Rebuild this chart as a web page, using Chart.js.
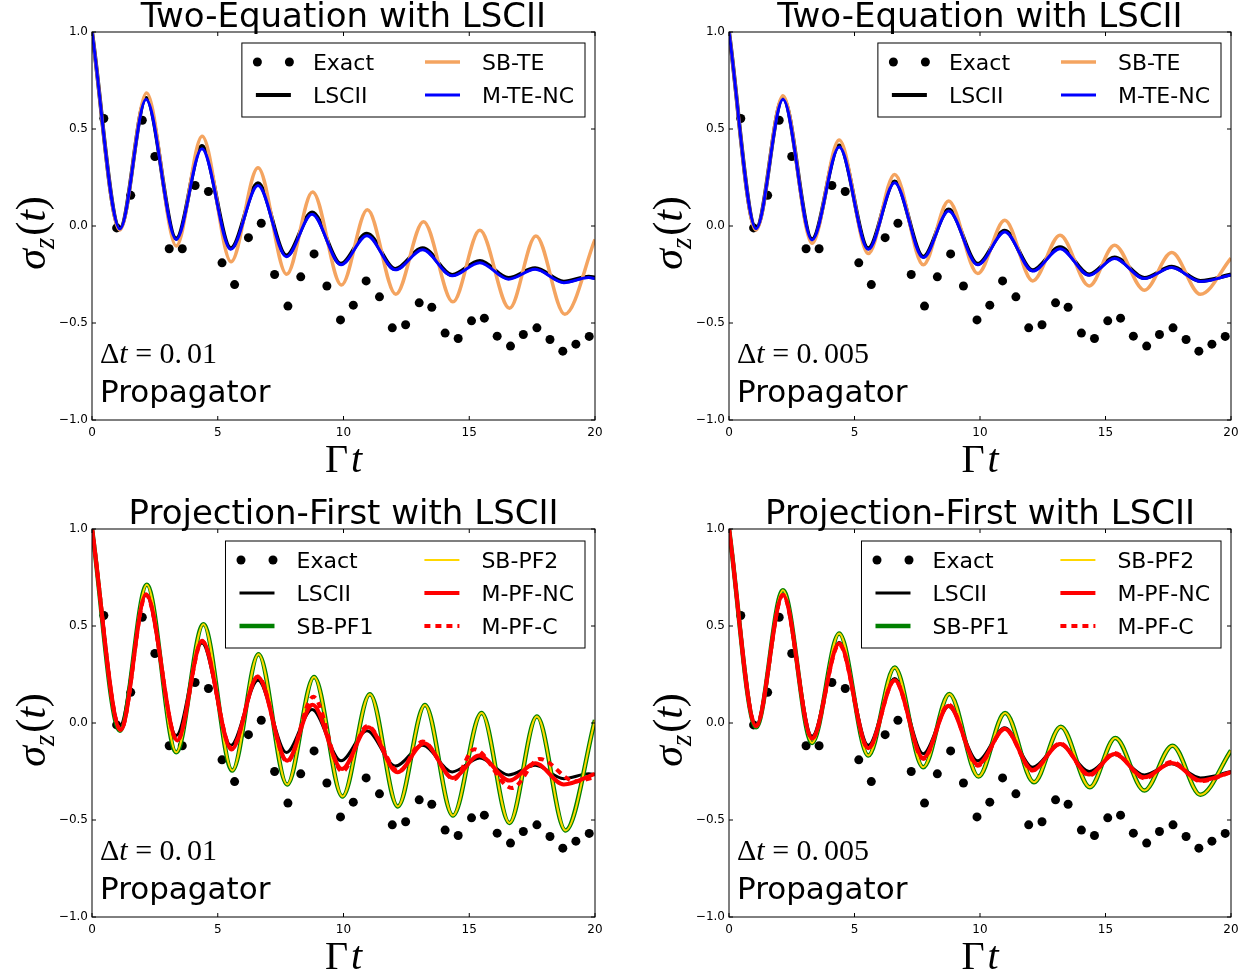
<!DOCTYPE html>
<html>
<head>
<meta charset="utf-8">
<script src="https://cdn.jsdelivr.net/npm/chart.js@4.4.1/dist/chart.umd.min.js"></script>
<style>
  body { margin: 0; background: #fff; }
  #wrap { position: relative; width: 1255px; height: 976px; }
  canvas { position: absolute; }
</style>
</head>
<body>
<div id="wrap">
  <canvas id="c1" width="627" height="488" style="left:0;top:0"></canvas>
  <canvas id="c2" width="618" height="488" style="left:637px;top:0"></canvas>
  <canvas id="c3" width="627" height="488" style="left:0;top:488px"></canvas>
  <canvas id="c4" width="618" height="488" style="left:637px;top:488px"></canvas>
</div>
<script>
// exact result (dots), same in every panel
const exactT = [0.47, 0.98, 1.54, 2.0, 2.5, 3.07, 3.59, 4.1, 4.63, 5.17, 5.67, 6.22, 6.73, 7.26, 7.79, 8.3, 8.83, 9.34, 9.88, 10.39,
  10.9, 11.43, 11.94, 12.47, 13.01, 13.51, 14.04, 14.56, 15.09, 15.6, 16.11, 16.64, 17.15, 17.69, 18.21, 18.72, 19.24, 19.77];
const exactV = [0.554, -0.01, 0.158, 0.545, 0.358, -0.117, -0.117, 0.209, 0.178, -0.19, -0.302, -0.06, 0.014, -0.25, -0.413, -0.262, -0.144, -0.309, -0.484, -0.408,
  -0.283, -0.365, -0.525, -0.509, -0.396, -0.419, -0.552, -0.58, -0.489, -0.475, -0.568, -0.619, -0.559, -0.525, -0.585, -0.645, -0.609, -0.569];

// dt = 0.01
const lsciiT01 = [0, 1.11, 2.15, 3.35, 4.37, 5.52, 6.6, 7.73, 8.75, 9.9, 10.93, 12.06, 13.15, 14.32, 15.42, 16.56, 17.62, 18.76, 19.75, 20];
const lsciiV01 = [1.0, -0.012, 0.66, -0.065, 0.412, -0.115, 0.22, -0.152, 0.07, -0.195, -0.04, -0.222, -0.115, -0.252, -0.18, -0.268, -0.218, -0.287, -0.262, -0.265];
const mtencV01 = [1.0, -0.015, 0.652, -0.069, 0.398, -0.12, 0.209, -0.158, 0.06, -0.2, -0.05, -0.226, -0.123, -0.257, -0.189, -0.274, -0.223, -0.292, -0.266, -0.271];
const sbteT01 = [0, 1.11, 2.17, 3.35, 4.38, 5.53, 6.6, 7.74, 8.77, 9.92, 10.95, 12.08, 13.18, 14.35, 15.42, 16.6, 17.65, 18.8, 20];
const sbteV01 = [1.0, -0.02, 0.686, -0.103, 0.463, -0.184, 0.30, -0.249, 0.175, -0.304, 0.084, -0.352, 0.022, -0.391, -0.022, -0.424, -0.051, -0.455, -0.069];
const sbpfT01 = [0, 1.11, 2.18, 3.35, 4.43, 5.58, 6.62, 7.76, 8.83, 9.96, 11.05, 12.16, 13.24, 14.35, 15.49, 16.6, 17.69, 18.83, 20];
const sbpf1V01 = [1.0, -0.04, 0.712, -0.151, 0.509, -0.245, 0.355, -0.317, 0.237, -0.379, 0.148, -0.43, 0.093, -0.477, 0.051, -0.515, 0.033, -0.554, 0.015];
const sbpf2V01 = [1.0, -0.04, 0.712, -0.151, 0.509, -0.245, 0.355, -0.317, 0.237, -0.379, 0.148, -0.43, 0.093, -0.477, 0.051, -0.515, 0.033, -0.554, 0.015];
const mpfncT01 = [0, 1.14, 2.15, 3.39, 4.38, 5.55, 6.59, 7.76, 8.77, 9.94, 10.98, 12.14, 13.21, 14.35, 15.39, 16.6, 17.62, 18.76, 20];
const mpfncV01 = [1.0, -0.035, 0.664, -0.09, 0.424, -0.137, 0.238, -0.194, 0.094, -0.237, -0.022, -0.254, -0.105, -0.283, -0.168, -0.297, -0.208, -0.317, -0.262];
const mpfcT01 = [0, 1.14, 2.15, 3.39, 4.38, 5.55, 6.6, 7.76, 8.8, 9.95, 10.95, 12.2, 13.15, 14.4, 15.2, 16.7, 17.8, 19.2, 20];
const mpfcV01 = [1.0, -0.035, 0.66, -0.09, 0.42, -0.13, 0.24, -0.2, 0.135, -0.25, -0.015, -0.25, -0.095, -0.29, -0.135, -0.335, -0.185, -0.3, -0.28];

// dt = 0.005
const tT005 = [0, 1.08, 2.15, 3.31, 4.39, 5.55, 6.6, 7.74, 8.75, 9.91, 10.99, 12.1, 13.19, 14.35, 15.36, 16.55, 17.64, 18.78, 20];
const lsciiV005 = [1.0, -0.012, 0.66, -0.068, 0.415, -0.115, 0.23, -0.158, 0.085, -0.195, -0.025, -0.228, -0.11, -0.25, -0.162, -0.268, -0.21, -0.283, -0.25];
const mtencV005 = [1.0, -0.014, 0.652, -0.072, 0.407, -0.12, 0.223, -0.163, 0.077, -0.2, -0.031, -0.232, -0.117, -0.254, -0.168, -0.271, -0.214, -0.286, -0.252];
const sbteV005 = [1.0, -0.02, 0.672, -0.089, 0.443, -0.142, 0.266, -0.2, 0.129, -0.245, 0.029, -0.283, -0.048, -0.309, -0.099, -0.331, -0.137, -0.352, -0.166];
const sbpfT005 = [0, 1.08, 2.15, 3.31, 4.39, 5.55, 6.6, 7.74, 8.78, 9.94, 11.0, 12.15, 13.22, 14.38, 15.39, 16.55, 17.67, 18.78, 20];
const sbpf1V005 = [1.0, -0.022, 0.684, -0.103, 0.461, -0.168, 0.286, -0.228, 0.149, -0.276, 0.051, -0.305, -0.019, -0.331, -0.077, -0.348, -0.117, -0.37, -0.142];
const sbpf2V005 = [1.0, -0.022, 0.684, -0.103, 0.461, -0.168, 0.286, -0.228, 0.149, -0.276, 0.051, -0.305, -0.019, -0.331, -0.077, -0.348, -0.117, -0.37, -0.142];
const mpfncV005 = [1.0, -0.015, 0.66, -0.08, 0.41, -0.13, 0.22, -0.18, 0.089, -0.214, -0.031, -0.242, -0.108, -0.266, -0.16, -0.28, -0.206, -0.297, -0.254];
const mpfcV005 = [1.0, -0.015, 0.66, -0.08, 0.405, -0.13, 0.22, -0.185, 0.095, -0.22, -0.03, -0.245, -0.105, -0.27, -0.155, -0.285, -0.2, -0.3, -0.255];

const xTicks = [0, 5, 10, 15, 20];
const yTicks = [-1.0, -0.5, 0.0, 0.5, 1.0];

const SANS = '"DejaVu Sans", sans-serif';
const SERIF = '"Liberation Serif", "DejaVu Serif", serif';

function pts(ts, vs) {
  return ts.map((t, i) => ({ x: t, y: vs[i] }));
}

function exactSet(order) {
  return {
    label: 'Exact', data: pts(exactT, exactV), showLine: false,
    pointRadius: 4.5, pointHoverRadius: 4.5, pointBorderWidth: 0,
    pointBackgroundColor: '#000', borderColor: '#000', order: order
  };
}

function lineSet(label, ts, vs, color, width, order, dash) {
  return {
    label: label, data: pts(ts, vs), borderColor: color, backgroundColor: color,
    borderWidth: width, pointRadius: 0, pointHoverRadius: 0, fill: false,
    cubicInterpolationMode: 'monotone', borderDash: dash || [], order: order
  };
}

// draws a run of text pieces with different fonts, returns width
function textRun(ctx, x, y, parts, dryRun) {
  let cx = x;
  parts.forEach(p => {
    ctx.font = p[1];
    if (!dryRun) ctx.fillText(p[0], cx, y + (p[2] || 0));
    cx += ctx.measureText(p[0]).width + (p[3] || 0);
  });
  return cx - x;
}

const decor = {
  id: 'decor',
  afterDatasetsDraw(chart, args, o) {
    const ctx = chart.ctx;
    const ca = chart.chartArea;
    const xs = chart.scales.x, ys = chart.scales.y;
    ctx.save();
    ctx.fillStyle = '#000';
    ctx.strokeStyle = '#000';
    ctx.lineWidth = 1;

    // inward ticks on all four sides, and the frame
    ctx.beginPath();
    xTicks.forEach(v => {
      const px = xs.getPixelForValue(v);
      ctx.moveTo(px, ca.bottom); ctx.lineTo(px, ca.bottom - 4);
      ctx.moveTo(px, ca.top); ctx.lineTo(px, ca.top + 4);
    });
    yTicks.forEach(v => {
      const py = ys.getPixelForValue(v);
      ctx.moveTo(ca.left, py); ctx.lineTo(ca.left + 4, py);
      ctx.moveTo(ca.right, py); ctx.lineTo(ca.right - 4, py);
    });
    ctx.stroke();
    ctx.strokeRect(ca.left, ca.top, ca.right - ca.left, ca.bottom - ca.top);

    // title
    ctx.font = '34px ' + SANS;
    ctx.textAlign = 'center';
    ctx.textBaseline = 'alphabetic';
    ctx.fillText(o.title, (ca.left + ca.right) / 2, ca.top - 5);

    ctx.textAlign = 'left';
    // x label: Gamma t
    const xl = [['\u0393', '40px ' + SERIF, 0, 3], ['t', 'italic 40px ' + SERIF]];
    const xw = textRun(ctx, 0, 0, xl, true);
    textRun(ctx, (ca.left + ca.right) / 2 - xw / 2, ca.bottom + 52, xl);

    // y label: sigma_z(t)
    const yl = [['\u03c3', 'italic 42px ' + SERIF], ['z', 'italic 29px ' + SERIF, 9, 2],
      ['(', '42px ' + SERIF], ['t', 'italic 42px ' + SERIF], [')', '42px ' + SERIF]];
    const yw = textRun(ctx, 0, 0, yl, true);
    ctx.save();
    ctx.translate(ca.left - 47, (ca.top + ca.bottom) / 2 + 7);
    ctx.rotate(-Math.PI / 2);
    textRun(ctx, -yw / 2, 0, yl);
    ctx.restore();

    // annotations
    const dl = [['\u0394', '30px ' + SERIF], ['t', 'italic 30px ' + SERIF], [' = ', '30px ' + SERIF],
      ['0.', '30px ' + SERIF, 0, 5], [o.dt, '30px ' + SERIF]];
    textRun(ctx, ca.left + 8, ca.bottom - 57, dl);
    ctx.font = '31px ' + SANS;
    ctx.fillText('Propagator', ca.left + 8, ca.bottom - 18);

    // legend, two columns, column-major
    const items = chart.data.datasets;
    const rows = Math.ceil(items.length / 2);
    ctx.font = '22px ' + SANS;
    let w1 = 0, w2 = 0;
    items.forEach((d, i) => {
      const w = ctx.measureText(d.label).width;
      if (i < rows) w1 = Math.max(w1, w); else w2 = Math.max(w2, w);
    });
    const boxW = 14 + 35 + 22 + w1 + 51 + 35 + 22 + w2 + 11;
    const boxH = 19 + (rows - 1) * 33 + 22;
    const bx = ca.right - 10 - boxW;
    const by = ca.top + o.legendTop;
    ctx.fillStyle = '#fff';
    ctx.fillRect(bx, by, boxW, boxH);
    ctx.strokeStyle = '#000';
    ctx.strokeRect(bx, by, boxW, boxH);
    items.forEach((d, i) => {
      const col = Math.floor(i / rows), row = i % rows;
      const cy = by + 19 + row * 33;
      const hx = bx + 14 + (col ? 35 + 22 + w1 + 51 : 0);
      if (d.showLine === false) {
        ctx.fillStyle = d.pointBackgroundColor;
        [hx + 1.5, hx + 33.5].forEach(px => {
          ctx.beginPath(); ctx.arc(px, cy, d.pointRadius, 0, Math.PI * 2); ctx.fill();
        });
      } else {
        ctx.save();
        ctx.strokeStyle = d.borderColor;
        ctx.lineWidth = d.borderWidth;
        ctx.setLineDash(d.borderDash || []);
        ctx.beginPath(); ctx.moveTo(hx, cy); ctx.lineTo(hx + 35, cy); ctx.stroke();
        ctx.restore();
      }
      ctx.fillStyle = '#000';
      ctx.font = '22px ' + SANS;
      ctx.fillText(d.label, hx + 35 + 22, cy + 8);
    });
    ctx.restore();
  }
};

function fmtY(v) {
  return (v < 0 ? '\u2212' : '') + Math.abs(v).toFixed(1);
}

function makePanel(id, p) {
  new Chart(document.getElementById(id), {
    type: 'line',
    data: { datasets: p.datasets },
    options: {
      responsive: false,
      animation: false,
      devicePixelRatio: 1,
      layout: { padding: { top: p.padTop, right: p.padRight, left: 0, bottom: 0 } },
      scales: {
        x: {
          type: 'linear', min: 0, max: 20,
          afterFit: s => { s.height = p.xH; },
          grid: { display: false, drawTicks: false },
          border: { display: false },
          ticks: { stepSize: 5, color: '#000', font: { family: SANS, size: 12 }, padding: 6, maxRotation: 0, autoSkip: false }
        },
        y: {
          type: 'linear', min: -1, max: 1,
          afterFit: s => { s.width = 92; },
          grid: { display: false, drawTicks: false },
          border: { display: false },
          ticks: { stepSize: 0.5, color: '#000', font: { family: SANS, size: 12 }, padding: 4, callback: fmtY }
        }
      },
      plugins: {
        legend: { display: false },
        tooltip: { enabled: false },
        decor: { title: p.title, dt: p.dt, legendTop: p.legendTop }
      }
    },
    plugins: [decor]
  });
}

const ORANGE = '#f4a460', BLUE = '#0000ff', GREEN = '#008000', GOLD = '#ffd700', RED = '#ff0000';

makePanel('c1', {
  title: 'Two-Equation with LSCII', dt: '01', padTop: 32, padRight: 32, xH: 68, legendTop: 11,
  datasets: [
    exactSet(10),
    lineSet('LSCII', lsciiT01, lsciiV01, '#000', 4, 9),
    lineSet('SB-TE', sbteT01, sbteV01, ORANGE, 3.5, 8),
    lineSet('M-TE-NC', lsciiT01, mtencV01, BLUE, 3, 7)
  ]
});

makePanel('c2', {
  title: 'Two-Equation with LSCII', dt: '005', padTop: 32, padRight: 24, xH: 68, legendTop: 11,
  datasets: [
    exactSet(10),
    lineSet('LSCII', tT005, lsciiV005, '#000', 4, 9),
    lineSet('SB-TE', tT005, sbteV005, ORANGE, 3.5, 8),
    lineSet('M-TE-NC', tT005, mtencV005, BLUE, 3, 7)
  ]
});

makePanel('c3', {
  title: 'Projection-First with LSCII', dt: '01', padTop: 41, padRight: 32, xH: 59, legendTop: 12,
  datasets: [
    exactSet(10),
    lineSet('LSCII', lsciiT01, lsciiV01, '#000', 3, 9),
    lineSet('SB-PF1', sbpfT01, sbpf1V01, GREEN, 4.5, 8),
    lineSet('SB-PF2', sbpfT01, sbpf2V01, GOLD, 2, 7),
    lineSet('M-PF-NC', mpfncT01, mpfncV01, RED, 4, 6),
    lineSet('M-PF-C', mpfcT01, mpfcV01, RED, 4, 5, [6, 5])
  ]
});

makePanel('c4', {
  title: 'Projection-First with LSCII', dt: '005', padTop: 41, padRight: 24, xH: 59, legendTop: 12,
  datasets: [
    exactSet(10),
    lineSet('LSCII', tT005, lsciiV005, '#000', 3, 9),
    lineSet('SB-PF1', sbpfT005, sbpf1V005, GREEN, 4.5, 8),
    lineSet('SB-PF2', sbpfT005, sbpf2V005, GOLD, 2, 7),
    lineSet('M-PF-NC', tT005, mpfncV005, RED, 4, 6),
    lineSet('M-PF-C', tT005, mpfcV005, RED, 4, 5, [6, 5])
  ]
});
</script>
</body>
</html>
